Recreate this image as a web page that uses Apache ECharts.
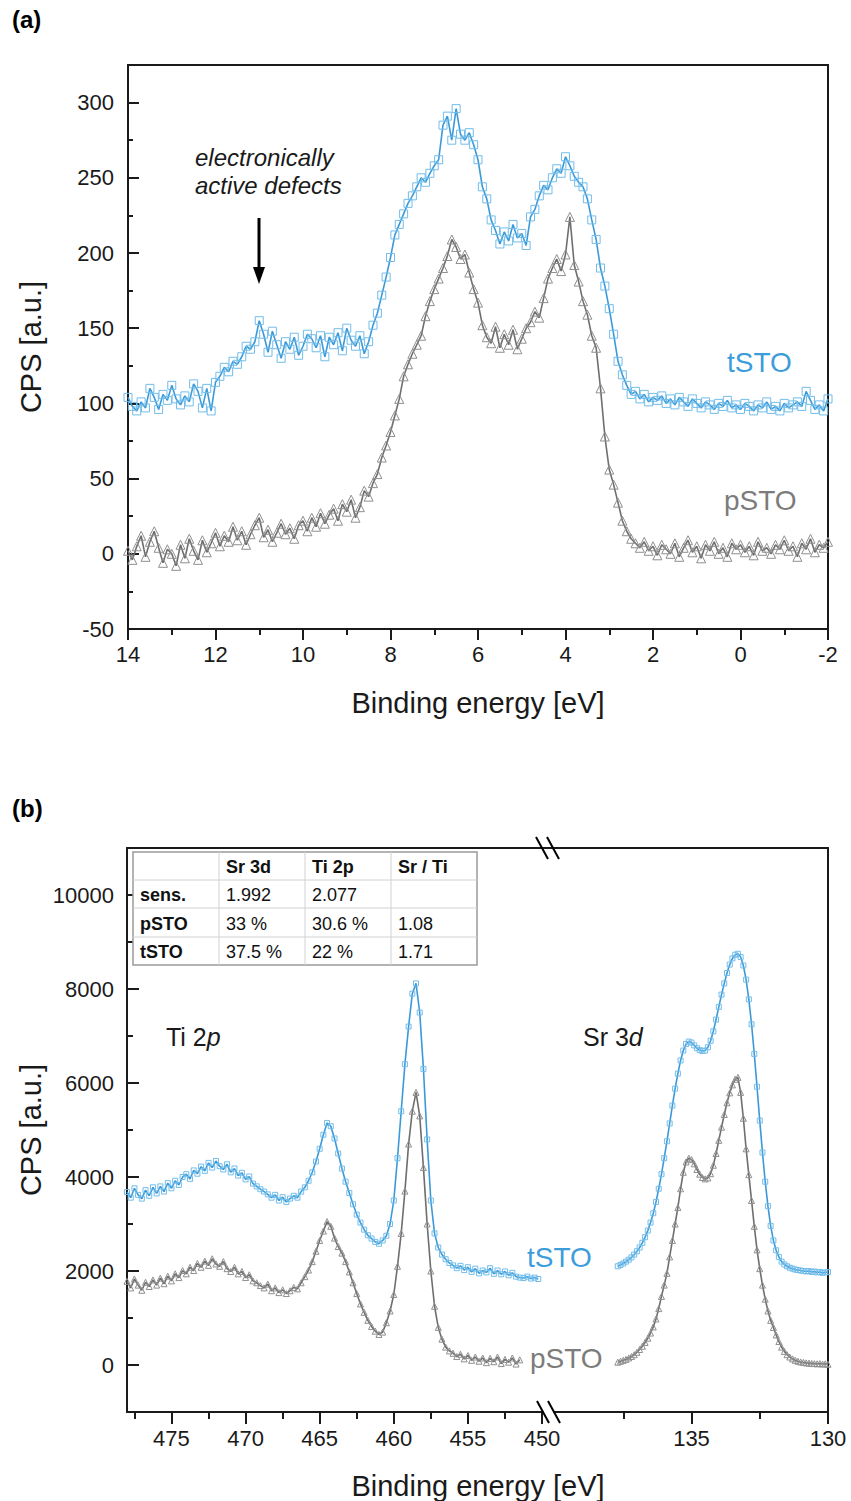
<!DOCTYPE html>
<html><head><meta charset="utf-8">
<script src="https://cdn.jsdelivr.net/npm/echarts@6/dist/echarts.min.js"></script>
<style>html,body{margin:0;padding:0;background:#fff}#c{width:851px;height:1501px}</style>
</head><body><div id="c"></div>
<script>
// ---------- Panel (a): valence band, energy grid 14 -> -2 eV, step 0.1 ----------
const aStart = 14.0, aStep = -0.1;
const aTSTO = [104,98,95,101,97,110,104,96,106,102,112,103,99,105,101,113,108,97,110,95,114,
118,124,121,128,126,131,138,136,141,155,146,134,148,139,130,141,136,144,132,138,
146,143,137,145,131,144,139,147,135,150,142,138,145,133,141,
152,160,172,184,197,212,219,226,233,238,244,250,247,253,258,262,285,291,275,296,279,275,280,272,262,244,236,222,215,206,214,208,219,210,213,205,224,229,238,245,242,250,256,253,264,258,251,247,244,236,222,209,190,178,163,146,128,119,112,106,
108,103,106,101,104,102,105,100,103,99,104,101,98,103,100,97,101,99,96,100,98,102,97,99,96,100,98,95,99,97,101,96,98,95,100,97,99,101,98,108,102,96,99,95,103];
const aPSTO = [2,-4,5,12,-2,8,15,4,-6,3,0,-8,6,-3,10,2,-4,9,1,7,14,
5,12,8,18,9,15,6,13,19,24,11,16,8,14,20,13,17,10,19,22,
15,24,18,27,20,26,30,22,33,28,36,24,31,42,38,
47,53,64,72,81,92,103,118,126,133,139,145,158,168,176,183,190,198,209,204,196,199,187,176,167,152,144,140,151,137,146,139,149,136,143,150,154,161,157,170,183,190,196,188,199,224,192,181,168,159,145,137,110,78,56,46,34,22,15,10,
7,4,8,2,5,-1,6,3,0,7,-2,4,9,1,5,-3,6,2,8,0,4,-2,7,3,6,1,5,-1,8,2,4,0,6,3,9,2,5,-2,7,3,10,1,6,4,8];
const aXMajor = [14,12,10,8,6,4,2,0,-2];
const aXMinor = [13,11,9,7,5,3,1,-1];
const aYMajor = [-50,0,50,100,150,200,250,300];
const aYMinor = [-25,25,75,125,175,225,275];

// ---------- Panel (b): Ti 2p region, grid 478 -> 450 eV, step 0.25 ----------
const bLStart = 478.0, bLStep = -0.25;
const bTSTOTi = [3680,3560,3760,3620,3540,3720,3600,3780,3650,
3800,3690,3870,3760,3920,3830,4000,4060,
3960,4140,4070,4220,4130,4300,4200,4340,
4230,4160,4270,4100,4180,4030,4090,3950,
4010,3860,3800,3740,3690,3630,3560,3620,
3500,3570,3470,3540,3600,3560,3690,3780,
3920,4100,4330,4600,4900,5150,5080,4820,
4500,4180,3900,3660,3420,3200,3030,2880,
2760,2690,2620,2580,2650,2750,3000,3500,
4400,5400,6400,7200,7900,8120,7500,6300,
4800,3500,2800,2500,2350,2250,2170,2120,
2060,2110,2020,2080,1980,2050,1950,2010,
1970,2060,1940,2010,1930,1990,1910,1960,
1880,1860,1850,1880,1840,1860,1830];
const bPSTOTi = [1780,1640,1830,1700,1590,1760,1670,1810,1700,
1850,1730,1890,1790,1940,1860,2010,1940,
2080,2010,2160,2080,2210,2120,2260,2150,
2100,2200,2050,1990,2080,1940,1990,1860,
1920,1790,1750,1690,1640,1720,1580,1640,
1540,1600,1520,1580,1650,1620,1750,1880,
2020,2200,2420,2650,2850,3050,2950,2700,
2520,2380,2200,1980,1750,1520,1300,1120,
950,820,720,650,700,900,1150,1500,
2100,2800,3700,4700,5400,5800,5300,4200,
3000,2000,1250,800,550,380,300,250,
180,230,130,200,100,170,80,150,
50,140,70,170,30,120,60,150,
20,110];
// ---------- Panel (b): Sr 3d region, grid 137.7 -> 130 eV, step 0.1 ----------
const bRStart = 137.7, bRStep = -0.1;
const bTSTOSr = [2100,2130,2160,2200,2240,2290,2350,2420,2500,2600,2720,2860,3030,3230,3470,
3750,4060,4400,4760,5140,5520,5880,6200,6480,6690,6830,6880,6860,6800,6740,
6700,6680,6690,6760,6900,7100,7350,7620,7880,8120,8340,8520,8650,8730,8750,
8680,8500,8200,7780,7250,6620,5920,5200,4520,3900,3380,2960,2650,2440,2300,
2200,2140,2100,2070,2050,2030,2020,2010,2000,1990,2000,1980,1990,1970,1980,1960,1970,1980];
const bPSTOSr = [60,80,100,120,150,180,220,270,330,400,480,570,680,810,980,
1200,1460,1700,1950,2300,2650,3000,3350,3750,4100,4320,4400,4370,4280,4160,
4060,3990,3960,3980,4070,4250,4500,4780,5060,5330,5580,5790,5960,6080,6120,
5800,5250,4600,4050,3500,2950,2450,2050,1700,1400,1150,950,800,640,500,
380,290,220,170,130,100,80,65,55,45,40,35,30,25,30,20,25,15];
const bXMajorL = [475,470,465,460,455,450];
const bXMinorL = [477.5,472.5,467.5,462.5,457.5,452.5];
const bXMajorR = [135,130];
const bXMinorR = [137.5,132.5];
const bYMajor = [0,2000,4000,6000,8000,10000];
const bYMinor = [1000,3000,5000,7000,9000];

const tableRows = [
  ['', 'Sr 3d', 'Ti 2p', 'Sr / Ti'],
  ['sens.', '1.992', '2.077', ''],
  ['pSTO', '33 %', '30.6 %', '1.08'],
  ['tSTO', '37.5 %', '22 %', '1.71']
];

// ---------- build ----------
function pairs(start, step, vals) {
  return vals.map((v, i) => [+(start + i * step).toFixed(3), v]);
}
const FONT = "'Liberation Sans', Arial, Helvetica, sans-serif";
const AX = '#1a1a1a';
const BLUE_LINE = '#3a9ad9', BLUE_MK = '#72bdea', BLUE_TXT = '#3d9ddb';
const GRAY_LINE = '#6e6e6e', GRAY_MK = '#8f8f8f', GRAY_TXT = '#7c7c7c';
const lineSt = {color: AX, width: 2};

function xAx(grid, min, max, opts) {
  return Object.assign({
    type: 'value', gridIndex: grid, min: min, max: max, inverse: true, position: 'bottom',
    splitLine: {show: false}, axisLine: {show: false, onZero: false},
    axisTick: {show: false}, axisLabel: {show: false}
  }, opts);
}
function yAx(grid, min, max, opts) {
  return Object.assign({
    type: 'value', gridIndex: grid, min: min, max: max, position: 'left',
    splitLine: {show: false}, axisLine: {show: false, onZero: false},
    axisTick: {show: false}, axisLabel: {show: false}
  }, opts);
}
const shownLine = {show: true, onZero: false, lineStyle: lineSt};
const lblSt = (vals, margin) => ({show: true, customValues: vals, fontSize: 22, fontFamily: FONT, color: '#1a1a1a', margin: margin, showMinLabel: true, showMaxLabel: true, formatter: v => String(v)});
const tick = (vals, len, inside) => ({show: true, customValues: vals, length: len, inside: !!inside, lineStyle: {color: AX, width: 2}});

function ser(name, xi, yi, data, symbol, size, lc, mc) {
  return {
    name: name, type: 'line', xAxisIndex: xi, yAxisIndex: yi, data: data,
    symbol: symbol, symbolSize: size, showSymbol: true, showAllSymbol: true,
    lineStyle: {color: lc, width: 1.6},
    itemStyle: {color: 'rgba(255,255,255,0)', borderColor: mc, borderWidth: 1},
    emphasis: {disabled: true}, animation: false, z: 3
  };
}

const graphics = [];
function txt(x, y, text, font, fill, align, extra) {
  graphics.push(Object.assign({type: 'text', x: x, y: y, z: 100,
    style: {text: text, font: font, fill: fill, align: align || 'left', verticalAlign: 'middle'}}, extra || {}));
}
// panel labels
txt(12, 19, '(a)', 'bold 24px ' + FONT, '#000');
txt(12, 808, '(b)', 'bold 24px ' + FONT, '#000');
// axis titles
txt(478, 703, 'Binding energy [eV]', '29px ' + FONT, '#1a1a1a', 'center');
txt(478, 1486, 'Binding energy [eV]', '29px ' + FONT, '#1a1a1a', 'center');
txt(31, 347, 'CPS [a.u.]', '29px ' + FONT, '#1a1a1a', 'center', {rotation: Math.PI / 2});
txt(31, 1130, 'CPS [a.u.]', '29px ' + FONT, '#1a1a1a', 'center', {rotation: Math.PI / 2});
// annotation
txt(195, 157, 'electronically', 'italic 24px ' + FONT, '#1a1a1a');
txt(195, 185, 'active defects', 'italic 24px ' + FONT, '#1a1a1a');
graphics.push({type: 'line', z: 100, shape: {x1: 259, y1: 218, x2: 259, y2: 272}, style: {stroke: '#000', lineWidth: 3}});
graphics.push({type: 'polygon', z: 100, shape: {points: [[253, 267], [265, 267], [259, 284]]}, style: {fill: '#000'}});
// series labels
txt(727, 362, 'tSTO', '28px ' + FONT, BLUE_TXT);
txt(724, 500, 'pSTO', '28px ' + FONT, GRAY_TXT);
txt(527, 1257, 'tSTO', '28px ' + FONT, BLUE_TXT);
txt(530, 1358, 'pSTO', '28px ' + FONT, GRAY_TXT);
// region labels
graphics.push({type: 'text', x: 166, y: 1037, z: 100, style: {
  text: '{n|Ti 2}{i|p}', verticalAlign: 'middle', fill: '#1a1a1a',
  rich: {n: {font: '25px ' + FONT, fill: '#1a1a1a'}, i: {font: 'italic 25px ' + FONT, fill: '#1a1a1a'}}}});
graphics.push({type: 'text', x: 583, y: 1037, z: 100, style: {
  text: '{n|Sr 3}{i|d}', verticalAlign: 'middle', fill: '#1a1a1a',
  rich: {n: {font: '25px ' + FONT, fill: '#1a1a1a'}, i: {font: 'italic 25px ' + FONT, fill: '#1a1a1a'}}}});
// axis break marks
graphics.push({type: 'line', z: 100, shape: {x1: 541, y1: 848, x2: 556, y2: 848}, style: {stroke: AX, lineWidth: 2}});
[[536, 837, 548, 859], [547, 837, 559, 859], [537, 1401, 549, 1423], [548, 1401, 560, 1423]].forEach(s => {
  graphics.push({type: 'line', z: 101, shape: {x1: s[0], y1: s[1], x2: s[2], y2: s[3]}, style: {stroke: '#000', lineWidth: 2}});
});
// table
const tX = [133, 219, 305, 391, 477], tY = [852, 880, 908, 937, 965];
graphics.push({type: 'rect', z: 90, shape: {x: tX[0], y: tY[0], width: tX[4] - tX[0], height: tY[4] - tY[0]}, style: {fill: '#fff', stroke: '#9a9a9a', lineWidth: 1.5}});
for (let i = 1; i < 4; i++) {
  graphics.push({type: 'line', z: 91, shape: {x1: tX[i], y1: tY[0], x2: tX[i], y2: tY[4]}, style: {stroke: '#d2d2d2', lineWidth: 1}});
  graphics.push({type: 'line', z: 91, shape: {x1: tX[0], y1: tY[i], x2: tX[4], y2: tY[i]}, style: {stroke: '#d2d2d2', lineWidth: 1}});
}
tableRows.forEach((row, r) => {
  row.forEach((cell, c) => {
    if (!cell) return;
    const bold = (r === 0 || c === 0);
    txt(tX[c] + 7, (tY[r] + tY[r + 1]) / 2 + 1, cell, (bold ? 'bold ' : '') + '18px ' + FONT, '#111');
  });
});

const option = {
  backgroundColor: '#fff',
  animation: false,
  grid: [
    {left: 128, top: 65, width: 700, height: 564, show: true, borderColor: AX, borderWidth: 2, backgroundColor: 'rgba(0,0,0,0)'},
    {left: 127, top: 848, width: 415, height: 564},
    {left: 555, top: 848, width: 273, height: 564}
  ],
  xAxis: [
    xAx(0, -2, 14, {axisTick: tick(aXMajor, 11), axisLabel: lblSt(aXMajor, 14)}),
    xAx(0, -2, 14, {axisTick: tick(aXMinor, 6)}),
    xAx(1, 450, 478, {axisLine: shownLine, axisTick: tick(bXMajorL, 12), axisLabel: lblSt(bXMajorL, 15)}),
    xAx(1, 450, 478, {axisTick: tick(bXMinorL, 7)}),
    xAx(1, 450, 478, {position: 'top', axisLine: shownLine}),
    xAx(2, 130, 140, {axisLine: shownLine, axisTick: tick(bXMajorR, 12), axisLabel: lblSt(bXMajorR, 15)}),
    xAx(2, 130, 140, {axisTick: tick(bXMinorR, 7)}),
    xAx(2, 130, 140, {position: 'top', axisLine: shownLine})
  ],
  yAxis: [
    yAx(0, -50, 325, {axisTick: tick(aYMajor, 11, true), axisLabel: lblSt(aYMajor, 14)}),
    yAx(0, -50, 325, {axisTick: tick(aYMinor, 5, true)}),
    yAx(1, -1000, 11000, {axisLine: shownLine, axisTick: tick(bYMajor, 12, true), axisLabel: lblSt(bYMajor, 13)}),
    yAx(1, -1000, 11000, {axisTick: tick(bYMinor, 6, true)}),
    yAx(2, -1000, 11000, {position: 'right', axisLine: shownLine})
  ],
  series: [
    ser('pSTO', 0, 0, pairs(aStart, aStep, aPSTO), 'triangle', 9, GRAY_LINE, GRAY_MK),
    ser('tSTO', 0, 0, pairs(aStart, aStep, aTSTO), 'rect', 8, BLUE_LINE, BLUE_MK),
    ser('pSTO', 2, 2, pairs(bLStart, bLStep, bPSTOTi), 'triangle', 6, GRAY_LINE, GRAY_MK),
    ser('tSTO', 2, 2, pairs(bLStart, bLStep, bTSTOTi), 'rect', 5, BLUE_LINE, BLUE_MK),
    ser('pSTO', 5, 4, pairs(bRStart, bRStep, bPSTOSr), 'triangle', 6, GRAY_LINE, GRAY_MK),
    ser('tSTO', 5, 4, pairs(bRStart, bRStep, bTSTOSr), 'rect', 5, BLUE_LINE, BLUE_MK)
  ],
  graphic: graphics
};
const chart = echarts.init(document.getElementById('c'), null, {renderer: 'svg', width: 851, height: 1501});
chart.setOption(option);
</script></body></html>
